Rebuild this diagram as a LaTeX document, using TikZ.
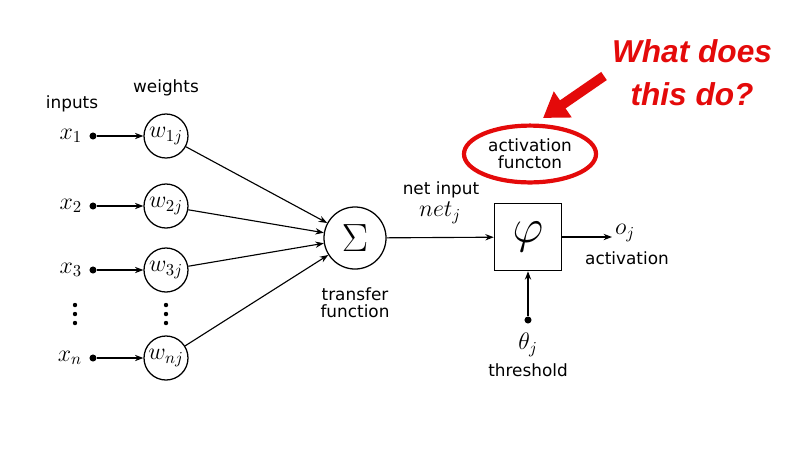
\documentclass[tikz,border=0pt]{standalone}
\usepackage{fix-cm}
\usepackage{fontspec}
\setsansfont{DejaVu Sans}
\newfontfamily\redfont{Liberation Sans}
\usetikzlibrary{arrows.meta,positioning,shapes.geometric}
\definecolor{R}{RGB}{228,10,10}
\tikzstyle{weight} = [circle, draw, line width=0.9pt, minimum size=1.1cm, inner sep=0pt,
  font=\fontsize{17}{19}\selectfont]
\tikzstyle{indot} = [circle, fill, inner sep=0pt, minimum size=5pt]
\tikzstyle{lbl} = [font=\sffamily\fontsize{12}{14}\selectfont, align=center, inner sep=1pt]
\tikzstyle{mth} = [font=\fontsize{17}{19}\selectfont, inner sep=1pt]
\tikzstyle{conn} = [->, line width=0.8pt]

\begin{document}
\begin{tikzpicture}[
    x=0.025cm, y=-0.025cm, % 1 unit = 1 px of the 800x450 frame
    >={Stealth[length=6pt,width=4.5pt]},
  ]
    \useasboundingbox (0,0) rectangle (800,450);

    % weights
    \node[weight] (w1) at (166,136) {$w_{1j}$};
    \node[weight] (w2) at (166,206) {$w_{2j}$};
    \node[weight] (w3) at (166,270) {$w_{3j}$};
    \node[weight] (wn) at (166,358) {$w_{nj}$};

    % inputs
    \node[indot] (d1) at (93,136) {};
    \node[indot] (d2) at (93,206) {};
    \node[indot] (d3) at (93,270) {};
    \node[indot] (dn) at (93,358) {};
    \node[mth, left=4pt of d1] (x1) {$x_1$};
    \node[mth, left=4pt of d2] (x2) {$x_2$};
    \node[mth, left=4pt of d3] (x3) {$x_3$};
    \node[mth, left=4pt of dn] (xn) {$x_n$};

    % vertical dots
    \fill (75,305) circle (2.2) (75,314) circle (2.2) (75,323) circle (2.2);
    \fill (166,305) circle (2.2) (166,314) circle (2.2) (166,323) circle (2.2);

    \node[lbl] (inputs) at (72,104) {inputs};
    \node[lbl] (weights) at (166,88) {weights};

    \draw[conn] (d1) -- (w1);
    \draw[conn] (d2) -- (w2);
    \draw[conn] (d3) -- (w3);
    \draw[conn] (dn) -- (wn);

    % transfer function
    \node[circle, draw, line width=0.9pt, minimum size=1.55cm, inner sep=0pt,
      font=\fontsize{28}{30}\selectfont] (sum) at (355,238) {$\Sigma$};
    \node[lbl] (transfer) at (355,303) {transfer\\[-2pt]function};

    \draw[conn] (w1) -- (sum);
    \draw[conn] (w2) -- (sum);
    \draw[conn] (w3) -- (sum);
    \draw[conn] (wn) -- (sum);

    % activation
    \node[draw, line width=0.9pt, minimum size=1.68cm, inner sep=0pt,
      font=\fontsize{34}{36}\selectfont] (act) at (528,237) {$\varphi$};
    \draw[conn] (sum) -- (act);
    \node[lbl] (netin) at (441,190) {net input};
    \node[mth] (net) at (440,213) {$net_j$};

    \coordinate (out) at (612,237);
    \draw[conn] (act) -- (out);
    \node[mth, right=1pt of out, yshift=3pt] (oj) {$o_j$};
    \node[lbl] (activ) at (627,258) {activation};

    \node[indot] (th) at (528,320) {};
    \draw[conn] (th) -- (act);
    \node[mth] (theta) at (528,345) {$\theta_j$};
    \node[lbl] (thresh) at (528,370) {threshold};

    % annotation
    \node[ellipse, draw=R, line width=3pt, minimum width=3.3cm, minimum height=1.42cm,
      lbl] (actfn) at (530,154) {activation\\[-2pt]functon};
    \node[text=R, align=center, font=\redfont\bfseries\itshape\fontsize{22.5}{30.5}\selectfont]
      (question) at (692,73) {What does\\this do?};
    \coordinate (qtail) at (604,76);
    \coordinate (qtip) at (543,118);
    \draw[R, line width=7pt, -{Triangle[length=0.6cm,width=0.75cm]}] (qtail) -- (qtip);
\end{tikzpicture}
\end{document}
